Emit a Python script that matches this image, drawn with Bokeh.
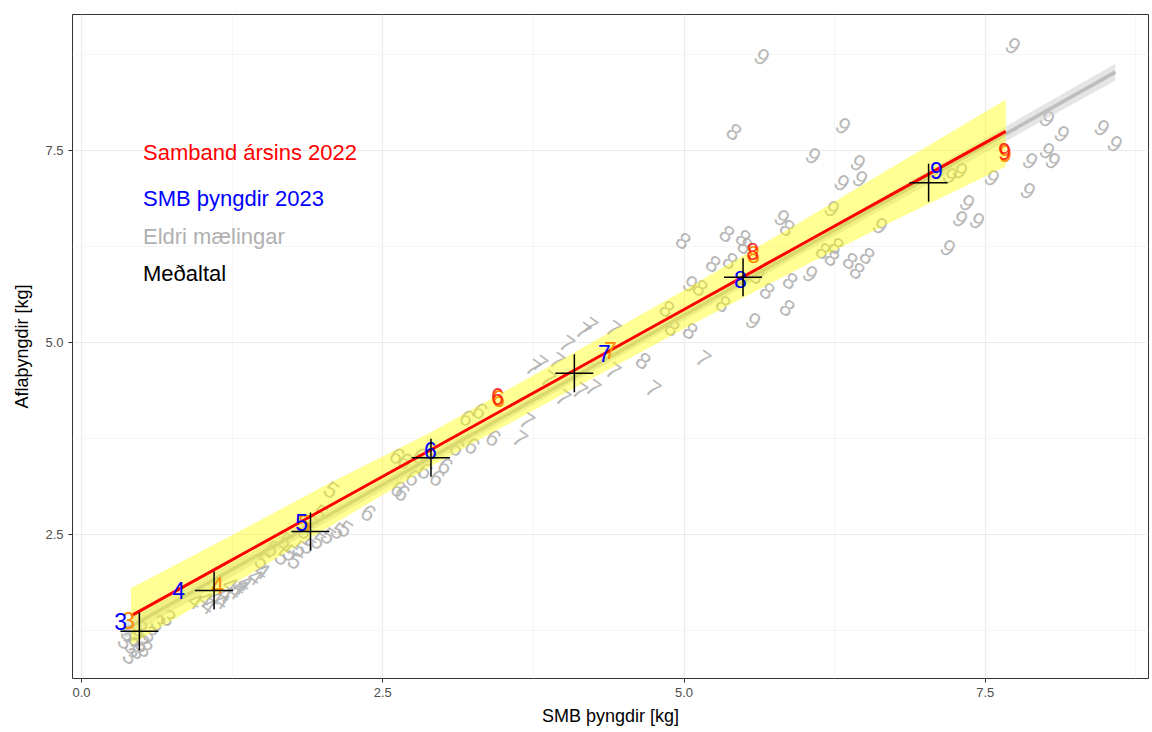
from bokeh.plotting import figure
from bokeh.models import ColumnDataSource, FixedTicker, PrintfTickFormatter, Range1d
from bokeh.core.properties import value
from bokeh.embed import file_html
from bokeh.resources import INLINE

FONT = "Liberation Sans"

# Older measurements (age label, SMB weight, landed weight)
old3_x = [0.365, 0.423, 0.473, 0.407, 0.531, 0.448, 0.506, 0.573, 0.639, 0.722, 0.390, 0.490]
old3_y = [1.120, 1.055, 0.990, 0.924, 1.016, 1.159, 1.094, 1.211, 1.354, 1.419, 1.224, 1.276]
old4_x = [0.946, 1.029, 1.112, 1.195, 1.278, 1.361, 1.444, 1.502, 1.054, 1.170, 1.320, 1.237]
old4_y = [1.641, 1.667, 1.680, 1.732, 1.771, 1.875, 1.953, 2.031, 1.576, 1.641, 1.823, 1.849]
old5_x = [1.585, 1.668, 1.734, 1.817, 1.884, 1.967, 2.050, 2.133, 2.191, 1.776, 1.693, 1.859, 2.075, 1.983, 1.502]
old5_y = [2.318, 2.214, 2.266, 2.318, 2.357, 2.422, 2.487, 2.552, 2.578, 2.161, 2.422, 2.552, 3.086, 2.786, 2.161]
old6_x = [2.382, 2.622, 2.631, 2.664, 2.755, 2.855, 2.954, 3.021, 3.120, 3.245, 3.419, 3.203, 3.311, 2.689, 2.813]
old6_y = [2.786, 3.529, 3.099, 3.047, 3.242, 3.333, 3.242, 3.398, 3.633, 3.659, 3.763, 4.023, 4.115, 3.464, 3.529]
old7_x = [4.033, 4.166, 4.224, 4.415, 3.751, 3.809, 3.950, 4.000, 4.141, 4.249, 4.415, 4.747, 5.162, 3.701, 3.643, 3.876]
old7_y = [4.987, 5.156, 5.221, 5.182, 4.674, 4.727, 4.766, 4.284, 4.375, 4.414, 4.635, 4.401, 4.792, 3.984, 3.750, 4.531]
old8_x = [4.664, 4.863, 4.905, 5.054, 4.996, 5.361, 5.494, 5.245, 5.386, 5.693, 5.859, 5.884, 5.328,
          5.859, 6.158, 6.232, 5.419, 5.510, 5.137, 5.610, 6.382, 6.523, 6.440, 6.266]
old8_y = [4.766, 5.443, 5.195, 5.156, 6.328, 6.419, 6.367, 6.029, 6.068, 5.677, 5.456, 5.807, 5.508,
          6.497, 6.198, 6.107, 7.747, 6.263, 5.716, 5.872, 6.068, 6.133, 5.938, 6.263]
old9_x = [5.651, 6.324, 6.075, 6.448, 6.315, 6.465, 6.232, 6.631, 7.353, 7.295, 7.436, 7.195, 7.560,
          7.734, 8.017, 8.141, 8.473, 8.581, 7.876, 8.017, 8.066, 7.859, 7.295, 7.212, 5.577, 5.054,
          6.050, 5.817]
old9_y = [8.724, 7.826, 7.435, 7.344, 7.083, 7.135, 6.745, 6.523, 6.823, 6.615, 6.589, 6.237, 7.148,
          8.867, 7.917, 7.721, 7.799, 7.591, 7.370, 7.500, 7.370, 6.979, 7.240, 7.174, 5.286, 5.768,
          5.898, 6.628]

ages = ["3", "4", "5", "6", "7", "8", "9"]

# 2023 SMB weights
smb23_x = [0.324, 0.805, 1.826, 2.896, 4.340, 5.469, 7.095]
smb23_y = [1.367, 1.771, 2.656, 3.594, 4.857, 5.820, 7.240]

# 2022 relationship points
rel22_x = [0.390, 1.129, 1.850, 3.461, 4.390, 5.577, 7.668]
rel22_y = [1.380, 1.836, 2.640, 4.271, 4.896, 6.146, 7.461]
rel22_red_age = ["6", "8", "9"]
rel22_red_x = [3.452, 5.570, 7.660]
rel22_red_y = [4.300, 6.190, 7.490]

# Means by age
mean_x = [0.48, 1.10, 1.90, 2.90, 4.09, 5.49, 7.03]
mean_y = [1.24, 1.77, 2.54, 3.50, 4.60, 5.85, 7.08]

# Fitted relationship 2022 with its band
fit_x = [0.41, 1.2, 2.0, 2.9, 4.0, 5.0, 6.0, 6.8, 7.67]
fit_y = [1.441, 2.127, 2.822, 3.604, 4.560, 5.429, 6.298, 6.994, 7.749]
fit_hi = [1.80, 2.45, 3.12, 3.83, 4.79, 5.68, 6.60, 7.35, 8.16]
fit_lo = [1.06, 1.80, 2.55, 3.39, 4.33, 5.18, 6.00, 6.63, 7.29]

# Fit to older measurements with its band
old_fit_x = [0.35, 2.0, 4.0, 6.0, 8.58]
old_fit_y = [1.25, 2.707, 4.473, 6.239, 8.52]
old_fit_hi = [1.36, 2.78, 4.53, 6.31, 8.63]
old_fit_lo = [1.14, 2.63, 4.41, 6.17, 8.41]

legend_labels = ["Samband ársins 2022", "SMB þyngdir 2023", "Eldri mælingar", "Meðaltal"]
legend_colors = ["#ff0000", "#0000ff", "#b0b0b0", "#000000"]
legend_y = [7.47, 6.875, 6.38, 5.90]
legend_x = 0.51

old_x, old_y, old_lab = [], [], []
for a, xs, ys in zip(ages, [old3_x, old4_x, old5_x, old6_x, old7_x, old8_x, old9_x],
                     [old3_y, old4_y, old5_y, old6_y, old7_y, old8_y, old9_y]):
    old_x += xs
    old_y += ys
    old_lab += [a] * len(xs)

p = figure(width=1152, height=732, output_backend="svg", toolbar_location=None,
           x_range=Range1d(-0.075, 8.855), y_range=Range1d(0.625, 9.27),
           min_border_left=72, min_border_right=4, min_border_top=14, min_border_bottom=54)
p.frame_width = 1076
p.frame_height = 664

p.background_fill_color = "white"
p.border_fill_color = "white"
p.outline_line_color = "#333333"
p.outline_line_width = 1

for ax in (p.xaxis, p.yaxis):
    ax.axis_line_color = None
    ax.major_tick_line_color = "#333333"
    ax.major_tick_out = 4
    ax.major_tick_in = 0
    ax.minor_tick_line_color = None
    ax.major_label_text_font = FONT
    ax.major_label_text_font_size = "13px"
    ax.major_label_text_color = "#4d4d4d"
    ax.axis_label_text_font = FONT
    ax.axis_label_text_font_size = "18px"
    ax.axis_label_text_font_style = "normal"
    ax.axis_label_text_color = "#000000"
    ax.formatter = PrintfTickFormatter(format="%.1f")

p.xaxis.ticker = FixedTicker(ticks=[0, 2.5, 5, 7.5], minor_ticks=[1.25, 3.75, 6.25, 8.75])
p.yaxis.ticker = FixedTicker(ticks=[2.5, 5, 7.5], minor_ticks=[1.25, 3.75, 6.25, 8.75])
p.xaxis.axis_label = "SMB þyngdir [kg]"
p.yaxis.axis_label = "Aflaþyngdir [kg]"
p.xaxis.axis_label_standoff = 6
p.yaxis.axis_label_standoff = 10

for g in (p.xgrid, p.ygrid):
    g.grid_line_color = "#ebebeb"
    g.grid_line_width = 1.2
    g.minor_grid_line_color = "#f2f2f2"
    g.minor_grid_line_width = 0.8

# older measurements as rotated age digits
p.text(x=old_x, y=old_y, text=old_lab, angle=-35, angle_units="deg",
       text_font=value(FONT), text_font_size="23px", text_color="#b0b0b0", text_alpha=0.9,
       text_align="center", text_baseline="middle")

# band and line for older data
p.varea(x=old_fit_x, y1=old_fit_lo, y2=old_fit_hi, fill_color="#cccccc", fill_alpha=0.5)
p.line(old_fit_x, old_fit_y, line_color="#bdbdbd", line_width=3.5)

# 2022 band and line
p.varea(x=fit_x, y1=fit_lo, y2=fit_hi, fill_color="#ffff00", fill_alpha=0.42)
p.line(fit_x, fit_y, line_color="#ff0000", line_width=3)

# 2022 labels
p.text(x=rel22_x, y=rel22_y, text=ages, text_font=value(FONT), text_font_size="23px",
       text_color="#ff8c00", text_align="center", text_baseline="middle")
p.text(x=rel22_red_x, y=rel22_red_y, text=rel22_red_age, text_font=value(FONT), text_font_size="23px",
       text_color="#ff0000", text_alpha=0.8, text_align="center", text_baseline="middle")

# 2023 labels
p.text(x=smb23_x, y=smb23_y, text=ages, text_font=value(FONT), text_font_size="23px",
       text_color="#0000ff", text_align="center", text_baseline="middle")

# means
p.scatter(x=mean_x, y=mean_y, marker="cross", size=38, line_color="black", line_width=1.5)

# legend text
src = ColumnDataSource(dict(x=[legend_x] * 4, y=legend_y, t=legend_labels, c=legend_colors))
p.text(x="x", y="y", text="t", text_color="c", source=src, text_font=value(FONT),
       text_font_size="22px", text_align="left", text_baseline="middle")

open("out.html", "w").write(file_html(p, INLINE))
